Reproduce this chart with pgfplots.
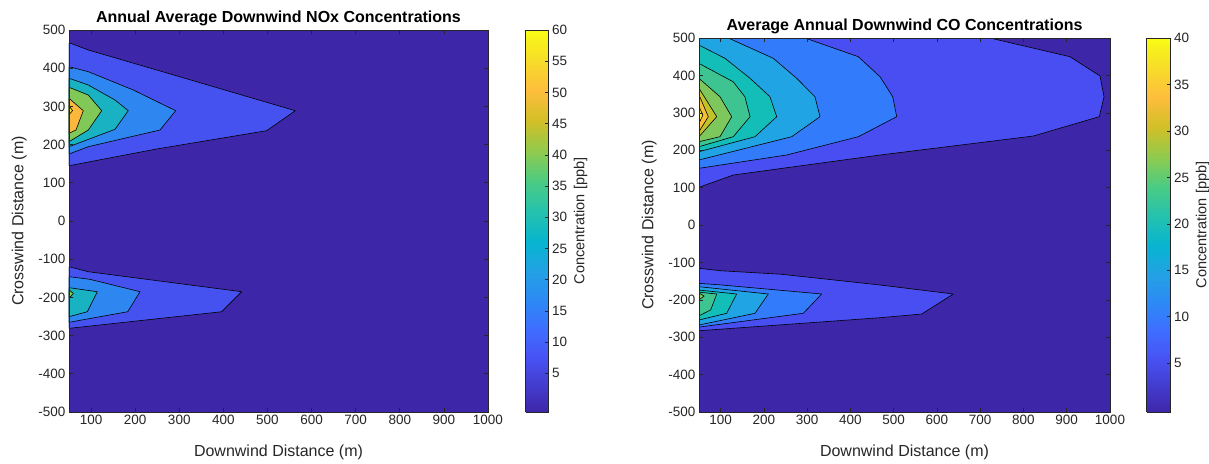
\documentclass[border=0pt]{standalone}
\usepackage{pgfplots}
\pgfplotsset{compat=1.18}
\usepackage{fontspec}
\setmainfont{Liberation Sans}
\definecolor{bgc}{rgb}{0.2422,0.1504,0.6603}
\definecolor{axc}{rgb}{0.15,0.15,0.15}
% NOx fills
\definecolor{na}{rgb}{0.275,0.32,0.94}
\definecolor{nb}{rgb}{0.18,0.53,0.94}
\definecolor{nc}{rgb}{0.10,0.70,0.76}
\definecolor{nd}{rgb}{0.50,0.79,0.35}
\definecolor{ne}{rgb}{0.98,0.72,0.24}
\definecolor{nf}{rgb}{0.97,0.90,0.15}
% CO fills
\definecolor{ca}{rgb}{0.281,0.305,0.945}
\definecolor{cb}{rgb}{0.195,0.487,0.989}
\definecolor{cc}{rgb}{0.127,0.644,0.889}
\definecolor{cd}{rgb}{0.080,0.747,0.720}
\definecolor{ce}{rgb}{0.24,0.77,0.57}
\definecolor{cf}{rgb}{0.49,0.78,0.36}
\definecolor{cg}{rgb}{0.76,0.76,0.17}
\definecolor{ch}{rgb}{0.96,0.75,0.21}
\definecolor{ci}{rgb}{0.97,0.91,0.16}
\pgfplotsset{
  colormap={parula}{rgb(0pt)=(0.2422,0.1504,0.6603) rgb(9pt)=(0.2810,0.3228,0.9579)
    rgb(14pt)=(0.2440,0.4358,0.9988) rgb(18pt)=(0.1786,0.5289,0.9682)
    rgb(23pt)=(0.1380,0.6276,0.8973) rgb(28pt)=(0.0297,0.7082,0.8163)
    rgb(33pt)=(0.1408,0.7584,0.6842) rgb(38pt)=(0.2906,0.7973,0.5188)
    rgb(43pt)=(0.5616,0.7942,0.3045) rgb(48pt)=(0.8203,0.7498,0.1535)
    rgb(53pt)=(0.9956,0.7434,0.2371) rgb(58pt)=(0.9676,0.8639,0.1643)
    rgb(63pt)=(0.9769,0.9839,0.0805)},
  cont/.style={draw=black, line width=0.6pt, line join=round},
  cbar/.style={at={(parent axis.north east)}, anchor=north west,
    yticklabel pos=right, ytick pos=right,
    tick align=inside, major tick length=4pt,
    axis line style={draw=axc, line width=0.6pt},
    every tick/.style={draw=axc, line width=0.6pt},
    /pgf/number format/assume math mode=true,
    ylabel={Concentration [ppb]},
    ylabel style={font=\fontsize{14.5}{15}\selectfont, text=axc},
    tick label style={font=\fontsize{13.5}{14}\selectfont, text=axc},
    samples=200},
  mat/.style={
    scale only axis, anchor=south west,
    xmin=50, xmax=1000, ymin=-500, ymax=500,
    xtick={100,200,...,1000}, ytick={-500,-400,...,500},
    tick align=inside, major tick length=4pt,
    axis line style={draw=axc, line width=0.6pt},
    every tick/.style={draw=axc, line width=0.6pt},
    axis background/.style={fill=bgc},
    axis on top,
    /pgf/number format/assume math mode=true,
    /pgf/number format/set thousands separator={},
    tick label style={font=\fontsize{13.5}{14}\selectfont, text=axc},
    label style={font=\fontsize{16}{17}\selectfont, text=axc},
    title style={font=\bfseries\fontsize{16}{17}\selectfont, yshift=-5pt},
    xlabel={Downwind Distance (m)},
    ylabel={Crosswind Distance (m)},
    xlabel shift=13pt, ylabel shift=5pt,
    colorbar sampled,
  },
}
\begin{document}
\begin{tikzpicture}
% ---------- NOx ----------
\begin{axis}[mat, at={(69pt,51pt)}, width=419pt, height=382pt,
  title={Annual Average Downwind NOx Concentrations},
  point meta min=-1.2, point meta max=60,
  colorbar style={cbar, xshift=29pt, width=23pt, ytick={5,10,...,60}},
]
\addplot[cont, fill=na] coordinates {(50,466.8) (93.8,447.6) (248.8,395.3) (563,288.7) (498.2,236.4) (248.8,188.5) (50,144.7) (50,466.8)};
\addplot[cont, fill=nb] coordinates {(50,403.9) (93.8,390.8) (195.8,342.9) (291.9,288.7) (256.3,238.2) (93.8,194.5) (50,175.4) (50,403.9)};
\addplot[cont, fill=nc] coordinates {(50,373.6) (93.8,356) (154.3,316.7) (184.4,288.7) (154.3,240) (50,194.5) (50,373.6)};
\addplot[cont, fill=nd] coordinates {(50,350) (93.8,329.8) (124.1,288.7) (93.8,238.2) (50,207.6) (50,350)};
\addplot[cont, fill=ne] coordinates {(50,321.2) (82.4,288.7) (65.9,238.2) (50,229.6) (50,321.2)};
\addplot[cont, fill=nf] coordinates {(50,302) (58,289) (50,278) (50,302)};
\addplot[cont, fill=na] coordinates {(50,-119.7) (93.8,-132.8) (441.5,-185.1) (396.2,-237.5) (50,-281) (50,-119.7)};
\addplot[cont, fill=nb] coordinates {(50,-145.8) (97.6,-152.7) (211,-185.1) (183.1,-237.5) (50,-265.2) (50,-145.8)};
\addplot[cont, fill=nc] coordinates {(50,-174.6) (114.2,-185.1) (91.5,-237.5) (50,-250.5) (50,-174.6)};
\addplot[cont, fill=nd] coordinates {(50,-180) (60,-190) (50,-202) (50,-180)};
\end{axis}
% ---------- CO ----------
\begin{axis}[mat, at={(699pt,51pt)}, width=411pt, height=374pt,
  title={Average Annual Downwind CO Concentrations},
  point meta min=-0.25, point meta max=40,
  colorbar style={cbar, xshift=28pt, width=24pt, ytick={5,10,...,40}},
]
\addplot[cont, fill=ca] coordinates {(50,100.8) (129.3,133.7) (468.4,187.1) (822.7,237.9) (975.3,289.6) (986.2,343) (976.9,398.4) (907.5,450) (722.6,500) (50,500) (50,100.8)};
\addplot[cont, fill=cb] coordinates {(50,151.6) (252.7,187.2) (418.2,236.1) (507,289.6) (497.7,343) (468.4,396.5) (418.2,450) (295,500) (50,500) (50,151.6)};
\addplot[cont, fill=cc] coordinates {(50,173.8) (264.3,236.1) (329.7,289.6) (318,343) (275.8,392.2) (221.7,445.7) (117.7,500) (50,500) (50,173.8)};
\addplot[cont, fill=cd] coordinates {(50,196) (179.4,236.1) (229.6,289.6) (214,343) (168,392.2) (110,445.7) (50,481) (50,196)};
\addplot[cont, fill=ce] coordinates {(50,209.4) (129.3,236.1) (168,289.6) (156,343) (129,383) (50,432) (50,209.4)};
\addplot[cont, fill=cf] coordinates {(50,222.7) (98.5,236.1) (125.6,289.6) (98.5,343) (50,392) (50,222.7)};
\addplot[cont, fill=cg] coordinates {(50,236.1) (91,289.6) (50,365.5) (50,236.1)};
\addplot[cont, fill=ch] coordinates {(50,249.5) (71.5,289.6) (50,347.6) (50,249.5)};
\addplot[cont, fill=ci] coordinates {(50,272) (59,294) (50,316) (50,272)};
\addplot[cont, fill=ca] coordinates {(50,-115.8) (98.5,-122.2) (241.2,-131.8) (468.4,-160.4) (637.8,-184.5) (564.8,-238) (468.4,-247.9) (50,-282.7) (50,-115.8)};
\addplot[cont, fill=cb] coordinates {(50,-156) (98.5,-160) (333.6,-184.5) (291,-236.1) (50,-273) (50,-156)};
\addplot[cont, fill=cc] coordinates {(50,-165) (210.2,-184.5) (179.4,-236.1) (50,-267.4) (50,-165)};
\addplot[cont, fill=cd] coordinates {(50,-174) (137,-184.5) (114,-236.1) (50,-254) (50,-174)};
\addplot[cont, fill=ce] coordinates {(50,-179.6) (91,-184.5) (77,-227) (50,-243) (50,-179.6)};
\addplot[cont, fill=cf] coordinates {(50,-182) (62,-190) (50,-200) (50,-182)};
\end{axis}
\pgfresetboundingbox
\path (0,0) rectangle (1209pt,463pt);
\end{tikzpicture}
\end{document}
